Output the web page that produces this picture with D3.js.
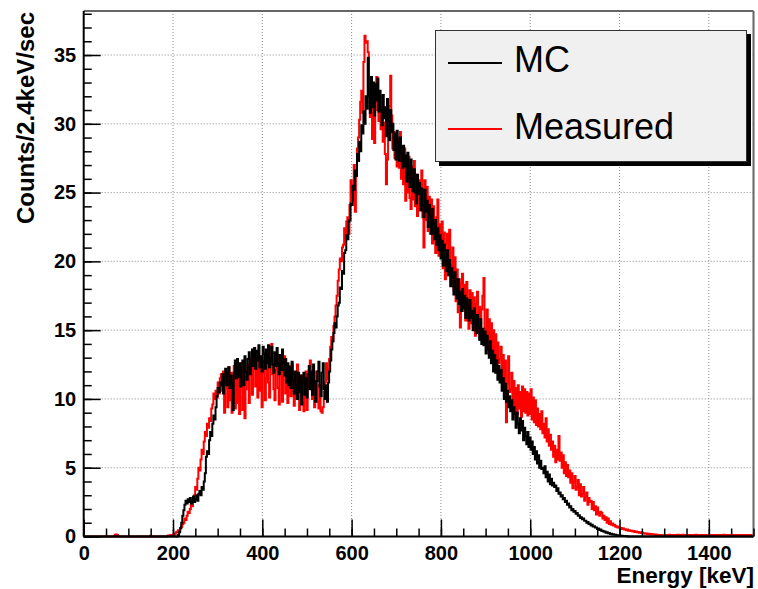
<!DOCTYPE html>
<html><head><meta charset="utf-8">
<script src="https://cdn.jsdelivr.net/npm/d3@7"></script>
<style>body{margin:0;background:#fff}</style>
</head><body><svg id="c" width="758" height="589"></svg>
<script>
// ---------------- data ----------------
const binWidth = 2.4;           // keV per bin
const nBins = 625;              // 0 .. 1500 keV
const xMajorTicks = [0,200,400,600,800,1000,1200,1400];
const yMajorTicks = [0,5,10,15,20,25,30,35];
const seriesNames = ["MC","Measured"];
const seriesColors = ["#000000","#ff0000"];

const mcFirstBin = 88;
const mcCounts = [
0.1,0.3,0.6,1.0,1.5,1.9,2.3,2.6,2.4,2.7,
2.5,2.8,2.4,2.6,2.9,2.5,2.7,3.0,2.6,3.1,
3.3,3.0,3.6,3.4,4.0,4.6,5.8,6.2,6.0,7.0,
7.6,7.3,8.2,8.8,8.5,9.4,10.2,10.8,10.5,11.2,
11.0,11.8,10.4,11.6,12.2,11.0,11.9,12.3,10.8,11.7,
11.2,9.2,11.9,12.8,11.5,12.9,11.6,12.6,10.9,12.3,
12.8,11.0,13.1,12.0,11.4,12.9,13.4,11.8,12.5,13.6,
12.4,13.7,12.2,13.5,12.8,13.9,12.3,13.1,12.0,13.8,
13.3,12.2,13.6,12.6,13.9,12.3,13.0,13.8,12.5,11.9,
13.4,12.4,13.7,12.6,11.8,13.2,12.1,13.6,12.6,11.7,
12.9,11.2,12.6,11.0,12.3,10.8,12.7,11.3,10.4,12.0,
11.0,10.0,11.9,10.5,11.7,9.6,11.2,11.9,10.3,11.5,
10.1,11.8,12.4,10.7,12.0,10.3,12.5,11.1,9.8,11.3,
12.0,12.7,10.9,10.2,11.9,12.6,10.7,10.0,11.0,9.8,
11.2,12.0,12.8,13.6,14.2,14.8,15.5,15.2,16.0,16.8,
17.0,18.1,18.0,19.3,19.1,20.6,20.8,21.9,21.6,22.9,
23.0,24.2,24.1,25.5,25.2,26.6,26.2,27.8,27.3,28.7,
28.0,29.9,29.3,30.9,30.0,32.0,31.1,34.8,32.0,30.8,
33.4,31.2,33.0,30.6,32.9,31.7,33.3,30.9,32.4,31.0,
29.9,32.1,30.4,31.2,29.1,31.8,30.2,28.8,31.0,29.4,
30.0,28.1,29.3,27.4,29.5,28.6,27.3,29.0,27.9,26.8,
28.4,26.9,27.7,25.8,27.9,26.3,25.4,27.4,26.0,25.1,
26.7,25.0,24.2,26.3,24.9,25.7,23.7,25.3,24.1,23.2,
25.2,23.6,24.4,22.5,24.1,23.3,22.0,23.8,22.7,21.6,
23.0,21.2,22.4,20.8,21.9,20.2,21.5,19.7,21.2,20.0,
19.3,20.8,19.0,20.1,18.2,19.5,18.9,17.6,19.2,18.0,
17.3,18.7,16.9,17.8,16.4,18.0,16.6,17.5,15.9,17.3,
16.8,15.7,17.2,15.9,16.4,15.0,16.6,15.5,14.8,16.1,
15.2,14.3,15.8,14.0,15.1,13.9,14.9,13.3,14.6,13.6,
13.0,14.2,12.6,13.5,12.0,13.2,11.9,12.8,11.4,12.4,
11.2,12.1,10.6,11.5,10.0,11.1,9.8,10.6,9.4,10.2,
9.1,9.9,8.5,9.4,8.9,7.9,9.0,8.2,7.5,8.6,
7.7,8.4,7.0,7.9,7.3,6.7,7.6,6.5,7.2,6.3,
6.9,6.0,6.5,5.6,6.2,5.3,5.9,5.0,5.5,4.9,
5.0,4.6,5.1,4.3,4.7,4.0,4.5,3.8,4.2,3.7,
3.9,3.6,3.7,3.3,3.5,3.1,3.2,2.9,3.0,2.7,
2.8,2.5,2.6,2.3,2.4,2.1,2.2,1.9,2.0,1.8,
1.85,1.65,1.7,1.5,1.55,1.35,1.4,1.25,1.3,1.15,
1.15,1.0,1.05,0.9,0.95,0.8,0.85,0.72,0.75,0.65,
0.65,0.55,0.58,0.48,0.5,0.4,0.42,0.35,0.36,0.28,
0.3,0.24,0.25,0.19,0.2,0.15,0.16,0.12,0.12,0.09,
0.09,0.07,0.07,0.05,0.05,0.04,0.03,0.03,0.02,0.02
];

const measuredFirstBin = 0;
const measuredCounts = [
0,0,0,0,0,0,0,0,0,0,
0,0,0,0,0,0,0,0,0,0,
0,0,0,0,0,0,0,0,0,0.12,
0.15,0.1,0,0,0,0,0,0,0,0,
0,0,0,0,0,0,0,0,0,0,
0,0,0,0,0,0,0,0,0,0,
0,0,0.05,0,0,0,0,0,0,0,
0,0,0,0,0,0,0,0,0.05,0.08,
0.05,0.1,0.08,
0.1,0.15,0.2,0.3,0.35,0.45,0.4,0.6,0.7,0.9,
1.0,1.3,1.2,1.5,1.8,1.7,2.0,2.3,2.2,2.6,
3.0,3.6,3.4,4.2,5.0,4.8,5.6,6.3,6.0,6.9,
7.6,7.3,8.2,7.9,8.6,8.4,9.3,9.6,10.4,10.0,
10.6,10.1,11.2,10.4,11.5,11.8,10.6,12.0,9.0,10.8,
11.8,9.4,12.3,9.9,11.9,9.0,11.1,12.4,9.3,11.4,
9.7,12.0,8.9,11.2,12.6,9.2,11.6,8.6,10.7,12.0,
12.5,9.7,11.8,12.9,10.3,12.4,13.3,10.9,12.8,10.1,
13.1,10.6,12.4,9.4,11.9,12.8,9.9,11.5,13.3,11.2,
10.1,12.8,14.0,11.8,10.7,9.9,12.1,13.2,10.8,9.6,
11.9,12.9,9.8,12.2,13.1,10.4,11.9,9.7,12.4,11.0,
10.2,12.5,10.6,9.5,11.8,10.0,12.5,10.6,9.2,11.3,
11.7,9.8,9.1,11.2,12.0,9.2,10.9,12.1,12.8,10.8,
10.0,11.9,9.4,11.3,12.0,9.8,9.3,11.0,9.1,9.0,
9.4,10.5,11.2,12.6,11.4,12.2,12.9,13.8,14.5,14.2,
15.3,16.0,16.8,17.5,18.6,19.4,20.2,20.0,21.0,21.2,
22.4,21.6,22.9,23.2,22.0,24.1,25.9,25.0,24.4,27.0,
23.6,26.5,28.2,29.0,30.3,31.6,32.4,30.8,34.5,36.4,
35.9,36.0,35.2,32.8,30.5,31.6,28.9,31.9,28.6,32.5,
33.4,31.0,30.2,32.0,29.6,30.8,28.7,30.1,27.8,25.6,
27.4,29.8,31.3,33.5,30.6,28.2,29.4,27.5,28.8,26.9,
28.9,26.8,29.4,26.0,28.3,25.6,28.2,24.4,27.3,25.0,
27.6,24.6,23.8,26.9,24.5,27.3,24.0,26.3,23.3,25.9,
24.1,25.9,26.6,23.2,21.0,25.9,23.0,25.4,22.2,24.7,
22.0,24.5,21.3,24.0,21.6,20.6,23.2,24.5,20.4,22.7,
20.4,22.9,19.5,22.1,18.7,21.3,22.0,19.0,22.3,19.7,
18.5,21.0,17.9,20.3,17.1,19.4,16.3,18.7,15.2,18.4,
19.1,16.4,18.3,15.7,18.5,16.3,15.1,17.9,15.5,17.7,
15.2,17.4,14.6,16.9,17.8,14.9,16.7,14.3,16.5,17.5,
18.8,15.1,14.4,16.5,13.7,15.8,13.4,15.5,13.1,15.0,
12.8,14.7,12.3,14.1,12.6,12.9,13.8,11.5,13.2,11.0,
12.8,8.3,11.1,13.1,10.5,10.7,11.9,9.5,11.3,9.1,
10.8,8.9,11.0,9.3,10.5,8.7,10.9,9.1,10.7,9.0,
10.5,8.8,10.4,8.9,10.7,8.5,10.1,8.3,9.9,8.1,
9.3,8.0,8.9,7.8,9.1,7.5,8.2,7.2,8.6,6.9,
7.8,6.6,7.4,6.3,6.9,5.8,6.6,5.4,6.3,5.6,
7.3,5.5,6.1,5.0,5.9,4.6,5.4,4.4,5.2,4.3,
4.8,3.9,4.6,3.5,4.0,4.4,3.4,3.6,4.1,3.0,
3.8,2.9,3.1,3.6,2.6,2.9,3.2,2.3,2.8,2.5,
2.6,2.0,2.5,1.9,2.2,1.6,2.1,1.7,1.5,1.8,
1.7,1.3,1.5,1.2,1.4,1.0,1.3,0.9,1.1,0.85,
0.95,0.8,0.85,0.7,0.75,0.65,0.7,0.6,0.62,0.55,
0.6,0.5,0.52,0.45,0.5,0.42,0.46,0.4,0.42,0.36,
0.4,0.33,0.36,0.3,0.32,0.27,0.3,0.25,0.27,0.22,
0.24,0.2,0.22,0.18,0.2,0.16,0.18,0.14,0.16,0.12,
0.14,0.11,0.12,0.1,0.11,0.09,0.1,0.08,0.09,0.07,
0.1,0.08,0.1,0.12,0.08,0.1,0.09,0.11,0.08,0.1,
0.1,0.12,0.08,0.1,0.09,0.1,0.13,0.08,0.1,0.09,
0.08,0.1,0.11,0.08,0.1,0.09,0.1,0.08,0.12,0.09,
0.1,0.08,0.1,0.09,0.11,0.08,0.1,0.09,0.1,0.08,
0.1,0.09,0.08,0.1,0.11,0.08,0.1,0.09,0.1,0.08,
0.09,0.1,0.08,0.1,0.12,0.08,0.1,0.09,0.08,0.1,
0.09,0.08,0.1,0.09,0.1,0.08,0.09,0.1,0.08,0.09,
0.1,0.08,0.09,0.1,0.08,0.09,0.1,0.08,0.09,0.1,
0.08,0.09
];

// ---------------- layout ----------------
const svg = d3.select("#c");
const L = 83.7, R = 753.5, T = 11, B = 536.5;
const x = d3.scaleLinear().domain([0, 1500]).range([L, R]);
const y = d3.scaleLinear().domain([0, 38.2]).range([B, T]);
const font = "'Liberation Sans', Arial, Helvetica, sans-serif";

// grid
const grid = svg.append("g").attr("stroke", "#8a8a8a").attr("stroke-width", 1)
  .attr("stroke-dasharray", "1,2");
xMajorTicks.filter(v => v > 0).forEach(v => {
  grid.append("line").attr("x1", x(v)).attr("x2", x(v)).attr("y1", T).attr("y2", B);
});
yMajorTicks.filter(v => v > 0).forEach(v => {
  grid.append("line").attr("x1", L).attr("x2", R).attr("y1", y(v)).attr("y2", y(v));
});

// histograms
function stepPoints(first, counts) {
  const pts = [];
  for (let i = 0; i < nBins; i++) {
    const k = i - first;
    const v = (k >= 0 && k < counts.length) ? counts[k] : 0;
    pts.push([i * binWidth, v], [(i + 1) * binWidth, v]);
  }
  return pts;
}
const line = d3.line().x(d => x(d[0])).y(d => y(d[1]));
svg.append("path").attr("d", line(stepPoints(measuredFirstBin, measuredCounts)))
  .attr("fill", "none").attr("stroke", seriesColors[1]).attr("stroke-width", 2);
svg.append("path").attr("d", line(stepPoints(mcFirstBin, mcCounts)))
  .attr("fill", "none").attr("stroke", seriesColors[0]).attr("stroke-width", 2);

// frame (top/right)
svg.append("line").attr("x1", L).attr("x2", R).attr("y1", T).attr("y2", T)
  .attr("stroke", "#666").attr("stroke-width", 2);
svg.append("line").attr("x1", R).attr("x2", R).attr("y1", T).attr("y2", B)
  .attr("stroke", "#666").attr("stroke-width", 2);

// axes
const fmt = d3.format("d");
const xMinor = d3.range(0, 1501, 50);
const yMinor = d3.range(0, 38.5, 1);
const gx = svg.append("g").attr("transform", `translate(0,${B})`);
gx.call(d3.axisBottom(x).tickValues(xMinor).tickSize(-8).tickFormat("").tickSizeOuter(0));
gx.selectAll(".tick line").attr("stroke-width", 1.5);
const gx2 = svg.append("g").attr("transform", `translate(0,${B})`);
gx2.call(d3.axisBottom(x).tickValues(xMajorTicks).tickFormat(fmt).tickSize(-17).tickPadding(9).tickSizeOuter(0));
gx2.selectAll(".tick line").attr("stroke-width", 1.5);
gx2.selectAll("text").attr("font-family", font).attr("font-weight", "bold")
  .attr("font-size", 20).attr("fill", "#000");
svg.selectAll(".domain").remove();

const gy = svg.append("g").attr("transform", `translate(${L},0)`);
gy.call(d3.axisLeft(y).tickValues(yMinor).tickSize(-8).tickFormat("").tickSizeOuter(0));
gy.selectAll(".tick line").attr("stroke-width", 1.5);
const gy2 = svg.append("g").attr("transform", `translate(${L},0)`);
gy2.call(d3.axisLeft(y).tickValues(yMajorTicks).tickFormat(fmt).tickSize(-17).tickPadding(7.5).tickSizeOuter(0));
gy2.selectAll(".tick line").attr("stroke-width", 1.5);
gy2.selectAll("text").attr("font-family", font).attr("font-weight", "bold")
  .attr("font-size", 20).attr("fill", "#000");
gy.select(".domain").remove(); gy2.select(".domain").remove();

svg.append("line").attr("x1", L).attr("x2", R).attr("y1", B).attr("y2", B)
  .attr("stroke", "#000").attr("stroke-width", 2);
svg.append("line").attr("x1", L).attr("x2", L).attr("y1", T).attr("y2", B)
  .attr("stroke", "#000").attr("stroke-width", 2);

// axis titles
svg.append("text").attr("x", 754).attr("y", 583).attr("text-anchor", "end")
  .attr("font-family", font).attr("font-weight", "bold").attr("font-size", 22.5)
  .text("Energy [keV]");
svg.append("text").attr("transform", "translate(34,12) rotate(-90)").attr("text-anchor", "end")
  .attr("font-family", font).attr("font-weight", "bold").attr("font-size", 24)
  .text("Counts/2.4keV/sec");

// legend
const lg = svg.append("g");
lg.append("rect").attr("x", 439).attr("y", 34).attr("width", 312).attr("height", 132).attr("fill", "#000");
lg.append("rect").attr("x", 435.5).attr("y", 30.5).attr("width", 311).attr("height", 131)
  .attr("fill", "#f0f0f0").attr("stroke", "#333").attr("stroke-width", 1);
const legY = [63, 129], legTextY = [72, 139];
seriesNames.forEach((n, i) => {
  lg.append("line").attr("x1", 448).attr("x2", 502).attr("y1", legY[i]).attr("y2", legY[i])
    .attr("stroke", seriesColors[i]).attr("stroke-width", 2);
  lg.append("text").attr("x", 514).attr("y", legTextY[i]).attr("font-family", font)
    .attr("font-size", 36).attr("fill", "#000").text(n);
});
</script>
</body></html>
